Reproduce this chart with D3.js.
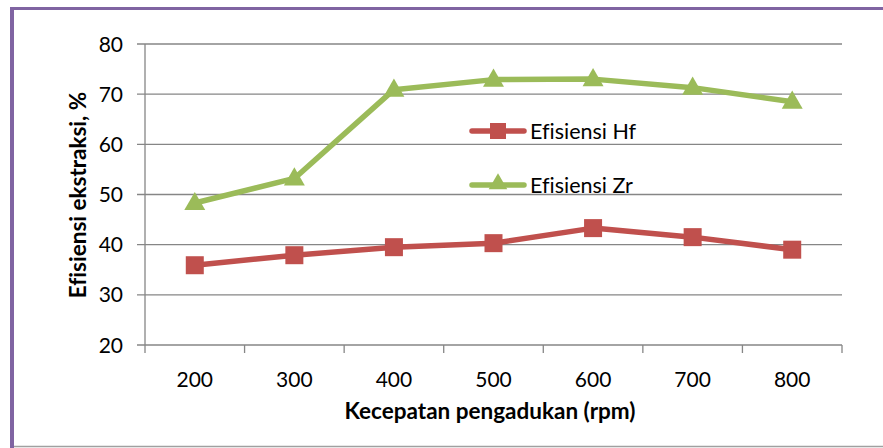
<!DOCTYPE html>
<html><head><meta charset="utf-8">
<script src="https://cdn.jsdelivr.net/npm/d3@7"></script>
<style>body{margin:0;background:#fff}svg{display:block}text{font-variant-ligatures:none}</style>
</head><body>
<svg id="c" width="883" height="448"></svg>
<script>
const categories = ["200","300","400","500","600","700","800"];
const hfValues = [35.9, 37.9, 39.5, 40.3, 43.3, 41.5, 39.0];
const zrValues = [48.3, 53.2, 70.9, 72.9, 73.0, 71.3, 68.5];
const yTicks = [20,30,40,50,60,70,80];
const seriesNames = ["Efisiensi Hf","Efisiensi Zr"];

const svg = d3.select("#c");
const font = "Lato, 'Open Sans', sans-serif";
// frame
svg.append("line").attr("x1",12).attr("x2",883).attr("y1",8.5).attr("y2",8.5).attr("stroke","#8064A2").attr("stroke-width",3);
svg.append("line").attr("x1",12).attr("x2",12).attr("y1",7).attr("y2",448).attr("stroke","#8064A2").attr("stroke-width",4);
svg.append("line").attr("x1",14).attr("x2",883).attr("y1",446.5).attr("y2",446.5).attr("stroke","#a0a0a0").attr("stroke-width",1.5);

const x = d3.scaleBand().domain(categories).range([145, 842]).padding(0);
const y = d3.scaleLinear().domain([20,80]).range([345, 44]);

// gridlines
svg.append("g").selectAll("line").data(yTicks).join("line")
  .attr("x1",137).attr("x2",842).attr("y1",d=>y(d)).attr("y2",d=>y(d))
  .attr("stroke","#868686").attr("stroke-width",1.3);

// y axis
svg.append("line").attr("x1",145).attr("x2",145).attr("y1",y(80)).attr("y2",y(20)).attr("stroke","#868686").attr("stroke-width",1.3);
svg.append("g").selectAll("text").data(yTicks).join("text")
  .attr("x",123).attr("y",d=>y(d)).attr("dy","0.36em").attr("text-anchor","end")
  .attr("font-family",font).attr("font-size",21).attr("fill","#000").text(d=>d);

// x axis ticks
const bounds = categories.map(c=>x(c)).concat([x(categories[categories.length-1])+x.bandwidth()]);
svg.append("g").selectAll("line").data(bounds).join("line")
  .attr("x1",d=>d).attr("x2",d=>d).attr("y1",345).attr("y2",353)
  .attr("stroke","#868686").attr("stroke-width",1.3);
svg.append("g").selectAll("text").data(categories).join("text")
  .attr("x",d=>x(d)+x.bandwidth()/2).attr("y",379).attr("dy","0.36em").attr("text-anchor","middle")
  .attr("font-family",font).attr("font-size",21).attr("fill","#000").text(d=>d);

// axis titles
svg.append("text").attr("x",490).attr("y",419).attr("text-anchor","middle")
  .attr("font-family",font).attr("font-size",22.5).attr("font-weight","bold").text("Kecepatan pengadukan (rpm)");
svg.append("text").attr("transform","translate(86,195) rotate(-90)").attr("text-anchor","middle")
  .attr("font-family",font).attr("font-size",22.5).attr("font-weight","bold").text("Efisiensi ekstraksi, %");

const cx = d=>x(d)+x.bandwidth()/2;
const line = d3.line().x(d=>cx(d[0])).y(d=>y(d[1]));
const hf = categories.map((c,i)=>[c,hfValues[i]]);
const zr = categories.map((c,i)=>[c,zrValues[i]]);
const red="#C0504D", green="#9BBB59";
const tri = d3.symbol().type(d3.symbolTriangle).size(190);

svg.append("path").attr("d",line(zr)).attr("fill","none").attr("stroke",green).attr("stroke-width",5.5).attr("stroke-linejoin","round");
svg.append("g").selectAll("path").data(zr).join("path")
  .attr("transform",d=>`translate(${cx(d[0])},${y(d[1])+1})`).attr("d",tri).attr("fill",green);

svg.append("path").attr("d",line(hf)).attr("fill","none").attr("stroke",red).attr("stroke-width",5.5).attr("stroke-linejoin","round");
svg.append("g").selectAll("rect").data(hf).join("rect")
  .attr("x",d=>cx(d[0])-9).attr("y",d=>y(d[1])-9).attr("width",18).attr("height",18).attr("fill",red);

// legend
const leg = [{name:seriesNames[0],color:red,ty:131,sym:"sq"},{name:seriesNames[1],color:green,ty:185,sym:"tri"}];
leg.forEach(l=>{
  const g = svg.append("g");
  g.append("line").attr("x1",472).attr("x2",524).attr("y1",l.ty).attr("y2",l.ty).attr("stroke",l.color).attr("stroke-width",5.5).attr("stroke-linecap","round");
  if(l.sym==="sq") g.append("rect").attr("x",490).attr("y",l.ty-8).attr("width",16).attr("height",16).attr("fill",l.color);
  else g.append("path").attr("transform",`translate(498,${l.ty-1})`).attr("d",d3.symbol().type(d3.symbolTriangle).size(150)).attr("fill",l.color);
  g.append("text").attr("x",530).attr("y",l.ty).attr("dy","0.36em").attr("font-family",font).attr("font-size",21.5).attr("fill","#000").text(l.name);
});
</script>
</body></html>
